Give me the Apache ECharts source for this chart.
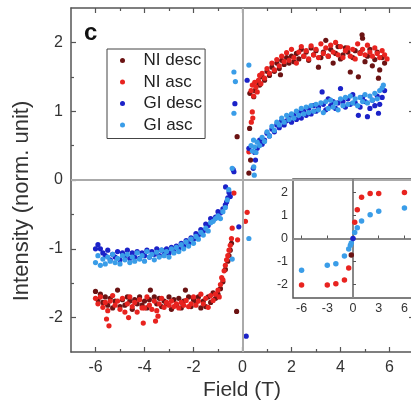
<!DOCTYPE html>
<html><head><meta charset="utf-8">
<script src="https://cdn.jsdelivr.net/npm/echarts@6/dist/echarts.min.js"></script>
<style>html,body{margin:0;padding:0;overflow:hidden;background:#fff}#c{width:414px;height:404px}</style>
</head><body><div id="c"></div>
<script>
const xMajor = [-6,-4,-2,0,2,4,6];
const xMinor = [-5,-3,-1,1,3,5];
const yMajor = [-2,-1,0,1,2];
const yMinor = [-1.5,-0.5,0.5,1.5];
const insetXTicks = [-6,-3,0,3,6];
const insetYTicks = [-2,-1,0,1,2];
const seriesNames = ['NI desc','NI asc','GI desc','GI asc'];
const colors = ['#6b1313','#e8231f','#1b22c8','#3a9de8'];

const NI_desc = [
[5.8,1.70],[5.7,1.78],[5.6,1.60],[5.55,1.48],[5.5,1.86],[5.4,1.75],[5.3,1.66],[5.2,1.90],[5.1,1.80],[5.0,1.72],
[4.9,2.06],[4.88,2.11],[4.8,1.85],[4.73,1.50],[4.6,1.88],[4.5,1.78],[4.4,1.57],[4.3,1.86],[4.2,1.92],[4.1,1.82],
[4.0,1.76],[3.9,1.94],[3.8,1.84],[3.7,1.70],[3.6,1.90],[3.5,1.80],[3.4,2.03],[3.3,1.86],[3.2,1.78],[3.1,1.64],
[3.0,1.88],[2.9,1.82],[2.8,1.92],[2.7,1.74],[2.6,1.86],[2.5,1.80],[2.4,1.90],[2.3,1.76],[2.2,1.84],[2.1,1.72],
[2.0,1.80],[1.9,1.70],[1.8,1.78],[1.7,1.68],[1.6,1.74],[1.55,1.53],[1.5,1.62],[1.4,1.70],[1.3,1.58],[1.2,1.64],
[1.1,1.52],[1.0,1.58],[0.9,1.45],[0.8,1.50],[0.7,1.38],[0.6,1.42],[0.5,1.30],[0.46,1.21],[0.30,1.26],
[0.29,0.75],[0.33,0.29],[0.26,0.10],[-0.22,0.63],
[-0.24,-1.91],[-0.45,-0.92],[-0.5,-1.02],[-0.55,-1.10],[-0.6,-1.18],[-0.7,-1.30],[-0.8,-1.48],[-0.9,-1.58],
[-1.0,-1.66],[-1.1,-1.72],[-1.2,-1.64],[-1.3,-1.78],[-1.4,-1.70],[-1.5,-1.84],[-1.6,-1.76],[-1.7,-1.86],[-1.8,-1.70],
[-1.9,-1.78],[-2.0,-1.74],[-2.1,-1.84],[-2.2,-1.70],[-2.33,-1.60],[-2.4,-1.76],[-2.5,-1.86],[-2.6,-1.72],[-2.7,-1.82],
[-2.8,-1.74],[-2.9,-1.88],[-3.0,-1.70],[-3.1,-1.80],[-3.2,-1.76],[-3.3,-1.84],[-3.4,-1.72],[-3.5,-1.80],[-3.6,-1.70],
[-3.76,-1.60],[-3.8,-1.74],[-3.9,-1.86],[-4.0,-1.76],[-4.1,-1.82],[-4.2,-1.70],[-4.3,-1.80],[-4.4,-1.74],[-4.5,-1.88],
[-4.6,-1.76],[-4.7,-1.70],[-4.8,-1.82],[-4.9,-1.74],[-5.0,-1.84],[-5.1,-1.60],[-5.2,-1.76],[-5.3,-1.86],[-5.4,-1.72],
[-5.5,-1.82],[-5.6,-1.70],[-5.7,-1.78],[-5.8,-1.66],[-5.9,-1.74],[-6.0,-1.62]
];

const NI_asc = [
[-6.0,-1.72],[-5.9,-1.80],[-5.8,-1.70],[-5.7,-1.85],[-5.6,-1.78],[-5.55,-2.02],[-5.5,-1.90],[-5.45,-2.12],[-5.4,-1.76],
[-5.3,-1.68],[-5.2,-1.82],[-5.1,-1.76],[-5.0,-1.88],[-4.9,-1.72],[-4.8,-1.92],[-4.7,-1.80],[-4.65,-2.00],[-4.6,-1.70],
[-4.5,-1.84],[-4.4,-1.78],[-4.3,-1.92],[-4.2,-1.74],[-4.1,-1.86],[-4.05,-2.08],[-4.0,-1.86],[-3.9,-1.70],[-3.8,-1.82],
[-3.7,-1.88],[-3.6,-1.76],[-3.55,-2.05],[-3.5,-1.90],[-3.45,-1.98],[-3.4,-1.80],[-3.3,-1.72],[-3.2,-1.85],[-3.1,-1.78],
[-3.0,-1.82],[-2.9,-1.76],[-2.8,-1.84],[-2.7,-1.80],[-2.6,-1.86],[-2.5,-1.78],[-2.4,-1.82],[-2.3,-1.75],[-2.2,-1.84],
[-2.1,-1.80],[-2.0,-1.70],[-1.9,-1.82],[-1.8,-1.76],[-1.7,-1.66],[-1.6,-1.80],[-1.5,-1.72],[-1.4,-1.85],[-1.3,-1.68],
[-1.2,-1.75],[-1.1,-1.66],[-1.0,-1.60],[-0.95,-1.70],[-0.9,-1.52],[-0.85,-1.42],[-0.8,-1.45],[-0.75,-1.32],[-0.7,-1.24],
[-0.65,-1.16],[-0.6,-1.10],[-0.55,-1.02],[-0.5,-0.95],[-0.45,-0.85],[-0.42,-0.70],[-0.35,-0.19],[-0.2,-0.87],
[0.12,-0.60],[0.19,-0.47],[0.26,0.41],[0.40,0.99],[0.42,0.90],[0.36,0.84],
[0.35,1.30],[0.40,1.38],[0.45,1.22],[0.5,1.42],[0.55,1.35],[0.6,1.28],[0.65,1.45],[0.7,1.52],[0.75,1.40],[0.8,1.55],
[0.9,1.48],[1.0,1.62],[1.1,1.55],[1.2,1.70],[1.3,1.60],[1.4,1.75],[1.5,1.66],[1.6,1.80],[1.7,1.72],[1.8,1.85],
[1.9,1.74],[2.0,1.90],[2.1,1.78],[2.2,1.70],[2.3,1.86],[2.4,1.94],[2.5,1.80],[2.6,1.88],[2.7,1.76],[2.8,1.95],
[2.9,1.82],[3.0,1.90],[3.1,1.78],[3.2,1.98],[3.3,1.84],[3.4,1.92],[3.5,1.80],[3.6,1.96],[3.7,1.86],[3.8,2.00],
[3.9,1.82],[4.0,1.94],[4.1,1.78],[4.2,1.88],[4.3,1.92],[4.4,1.80],[4.5,1.90],[4.6,1.76],[4.7,1.98],[4.8,1.84],
[4.9,1.90],[5.0,1.82],[5.1,1.96],[5.2,1.86],[5.3,1.80],[5.4,1.92],[5.5,1.84],[5.6,1.78],[5.7,1.88],[5.8,1.82],[5.9,1.76]
];

const GI_desc = [
[5.8,1.30],[5.7,1.20],[5.6,1.10],[5.55,0.97],[5.5,1.22],[5.4,1.08],[5.3,1.16],[5.2,1.04],[5.1,0.92],[5.0,1.14],
[4.9,1.20],[4.8,1.06],[4.73,0.94],[4.6,1.12],[4.5,1.24],[4.4,1.10],[4.3,1.18],[4.2,1.06],[4.1,1.14],[4.0,1.33],
[3.9,1.12],[3.8,1.04],[3.7,1.14],[3.6,1.08],[3.5,1.18],[3.4,1.02],[3.3,1.10],[3.25,1.28],[3.1,1.06],[3.0,1.00],
[2.9,1.08],[2.8,0.96],[2.7,1.04],[2.6,0.94],[2.5,1.00],[2.4,0.90],[2.3,0.98],[2.2,0.88],[2.1,0.94],[2.0,0.84],
[1.9,0.92],[1.8,0.86],[1.7,0.80],[1.6,0.86],[1.5,0.76],[1.4,0.80],[1.3,0.70],[1.2,0.74],[1.1,0.64],[1.0,0.68],
[0.9,0.58],[0.8,0.52],[0.7,0.58],[0.6,0.46],[0.5,0.40],[0.53,0.29],[0.26,0.46],[0.44,0.17],
[0.19,1.45],[-0.31,1.11],[-0.38,0.15],[-0.35,0.12],[-0.69,-0.10],[-0.5,-0.24],[-0.15,-0.68],[0.15,-2.27],
[-0.55,-0.18],[-0.6,-0.26],[-0.65,-0.32],[-0.7,-0.36],[-0.8,-0.42],[-0.9,-0.48],[-1.0,-0.46],[-1.1,-0.54],[-1.2,-0.58],
[-1.3,-0.56],[-1.4,-0.66],[-1.5,-0.64],[-1.6,-0.74],[-1.7,-0.72],[-1.8,-0.80],[-1.9,-0.78],[-2.0,-0.86],[-2.1,-0.84],
[-2.2,-0.92],[-2.3,-0.88],[-2.4,-0.96],[-2.5,-0.92],[-2.6,-1.00],[-2.7,-0.96],[-2.8,-1.04],[-2.9,-0.98],[-3.0,-1.06],
[-3.1,-1.00],[-3.2,-1.08],[-3.3,-1.02],[-3.4,-1.10],[-3.5,-1.00],[-3.6,-1.08],[-3.7,-1.04],[-3.8,-1.12],[-3.9,-1.02],
[-4.0,-1.10],[-4.1,-1.06],[-4.2,-1.14],[-4.3,-1.04],[-4.4,-1.12],[-4.5,-1.06],[-4.6,-1.14],[-4.7,-1.02],[-4.8,-1.10],
[-4.9,-1.06],[-5.0,-1.16],[-5.1,-1.04],[-5.2,-1.12],[-5.3,-1.08],[-5.4,-1.16],[-5.5,-1.02],[-5.6,-1.10],[-5.7,-1.06],
[-5.8,-1.00],[-5.9,-0.94],[-6.0,-1.00]
];

const GI_asc = [
[-6.0,-1.20],[-5.9,-1.10],[-5.8,-1.24],[-5.7,-1.15],[-5.6,-1.22],[-5.5,-1.12],[-5.4,-1.18],[-5.3,-1.08],[-5.2,-1.20],
[-5.1,-1.14],[-5.0,-1.22],[-4.9,-1.10],[-4.8,-1.16],[-4.7,-1.08],[-4.6,-1.20],[-4.5,-1.12],[-4.4,-1.18],[-4.3,-1.06],
[-4.2,-1.15],[-4.1,-1.10],[-4.0,-1.18],[-3.9,-1.04],[-3.8,-1.12],[-3.7,-1.08],[-3.6,-1.16],[-3.5,-1.05],[-3.4,-1.12],
[-3.3,-1.02],[-3.2,-1.10],[-3.1,-1.04],[-3.0,-1.12],[-2.9,-1.00],[-2.8,-1.06],[-2.7,-0.98],[-2.6,-1.04],[-2.5,-0.94],
[-2.4,-1.00],[-2.3,-0.90],[-2.2,-0.96],[-2.1,-0.86],[-2.0,-0.92],[-1.9,-0.82],[-1.8,-0.86],[-1.7,-0.76],[-1.6,-0.80],
[-1.5,-0.70],[-1.4,-0.74],[-1.3,-0.62],[-1.2,-0.60],[-1.1,-0.56],[-1.0,-0.52],[-0.9,-0.56],[-0.8,-0.46],[-0.7,-0.40],
[-0.62,-0.29],[-0.56,-0.14],[-0.42,-1.15],[0.26,-0.85],[-0.42,0.17],[-0.35,0.97],[-0.29,1.43],[-0.35,1.57],[0.26,1.67],
[0.48,0.07],[0.46,0.19],
[0.35,0.50],[0.4,0.42],[0.45,0.58],[0.5,0.48],[0.55,0.40],[0.6,0.55],[0.7,0.50],[0.8,0.62],[0.9,0.56],[1.0,0.70],
[1.1,0.64],[1.2,0.78],[1.3,0.72],[1.4,0.84],[1.5,0.80],[1.6,0.90],[1.7,0.84],[1.8,0.94],[1.9,0.88],[2.0,0.96],
[2.1,0.90],[2.2,1.00],[2.3,0.94],[2.4,1.04],[2.5,0.96],[2.6,1.06],[2.7,0.98],[2.8,1.08],[2.9,1.00],[3.0,1.10],
[3.1,1.02],[3.2,1.12],[3.3,0.98],[3.4,1.14],[3.5,1.04],[3.6,1.16],[3.7,1.06],[3.8,1.12],[3.9,1.02],[4.0,1.18],
[4.1,1.08],[4.2,1.20],[4.3,1.10],[4.4,1.22],[4.5,1.12],[4.6,1.18],[4.7,1.08],[4.8,1.20],[4.9,1.14],[5.0,1.24],
[5.1,1.12],[5.2,1.22],[5.3,1.16],[5.4,1.26],[5.5,1.18],[5.6,1.30],[5.7,1.34],[5.75,1.38]
];

const inset_NI = [[-6,-2.03],[-3,-2.03],[-2,-1.98],[-1,-1.81],[-0.5,-1.29],[0.2,0.71],[0.5,1.26],[1,1.8],[2,1.97],[3,1.97],[6,2.01]];
const inset_NI_dark = [[-0.2,-0.72]];
const inset_GI = [[-6,-1.39],[-3,-1.17],[-2,-1.1],[-1,-0.77],[-0.5,-0.46],[-0.3,-0.3],[-0.2,-0.2],[0.2,0.26],[0.5,0.47],[1,0.76],[2,1.04],[3,1.19],[6,1.33]];
const inset_GI_dark = [[0,0]];

const FONT = 'Liberation Sans, Arial, sans-serif';
const AX = '#555';

function tickAxis(kind, grid, pos, vals, len, showLine, labels) {
  return {
    type: 'value', gridIndex: grid, position: pos,
    min: kind === 'x' ? -7 : -2.5, max: kind === 'x' ? 7 : 2.5,
    axisLine: {show: showLine, onZero: false, lineStyle: {color: AX, width: 1.5}},
    axisTick: {show: true, inside: true, length: len, customValues: vals, lineStyle: {color: AX, width: 1.2}},
    axisLabel: labels ? {show: true, customValues: vals, fontSize: 16, fontFamily: FONT, color: '#333', margin: 8} : {show: false},
    splitLine: {show: false}
  };
}

const xAxes = [
  tickAxis('x', 0, 'bottom', xMajor, 5, true, true),
  tickAxis('x', 0, 'bottom', xMinor, 3, false, false),
  tickAxis('x', 0, 'top', xMajor, 5, true, false),
  tickAxis('x', 0, 'top', xMinor, 3, false, false),
  {type: 'value', gridIndex: 1, min: -7, max: 7, position: 'bottom', z: 6,
   axisLine: {show: false},
   axisTick: {show: true, inside: true, length: 3, customValues: insetXTicks, lineStyle: {color: AX}},
   axisLabel: {customValues: insetXTicks, fontSize: 12.5, fontFamily: FONT, color: '#333', margin: 4},
   splitLine: {show: false}}
];
const yAxes = [
  tickAxis('y', 0, 'left', yMajor, 5, true, true),
  tickAxis('y', 0, 'left', yMinor, 3, false, false),
  tickAxis('y', 0, 'right', yMajor, 5, true, false),
  tickAxis('y', 0, 'right', yMinor, 3, false, false),
  {type: 'value', gridIndex: 1, min: -2.6, max: 2.6, position: 'left', z: 6,
   axisLine: {show: false},
   axisTick: {show: true, inside: true, length: 3, customValues: insetYTicks, lineStyle: {color: AX}},
   axisLabel: {customValues: insetYTicks, fontSize: 12.5, fontFamily: FONT, color: '#333', margin: 5},
   splitLine: {show: false}}
];

const mainData = [NI_desc, NI_asc, GI_desc, GI_asc];
const series = mainData.map((d, i) => ({
  name: seriesNames[i], type: 'scatter', xAxisIndex: 0, yAxisIndex: 0, data: d,
  symbol: 'circle', symbolSize: 5.2, itemStyle: {color: colors[i], opacity: 1}, z: 2, silent: true
}));
series.unshift({
  type: 'scatter', xAxisIndex: 0, yAxisIndex: 0, data: [], z: 1, silent: true,
  markLine: {silent: true, symbol: ['none', 'none'], animation: false, label: {show: false},
    lineStyle: {color: '#aaaaaa', width: 2, type: 'solid'}, data: [{xAxis: 0}, {yAxis: 0}]}
});
series.push({
  type: 'scatter', xAxisIndex: 4, yAxisIndex: 4, data: [], z: 7, silent: true,
  markLine: {silent: true, symbol: ['none', 'none'], animation: false, label: {show: false},
    lineStyle: {color: '#888888', width: 2, type: 'solid'}, data: [{xAxis: 0}, {yAxis: 0}]}
});
[[inset_NI, colors[1]], [inset_NI_dark, colors[0]], [inset_GI, colors[3]], [inset_GI_dark, colors[2]]].forEach(([d, c], k) => {
  series.push({name: 'inset' + k, type: 'scatter', xAxisIndex: 4, yAxisIndex: 4, data: d,
    symbol: 'circle', symbolSize: 5.5, itemStyle: {color: c, opacity: 1}, z: 8, silent: true});
});

const chart = echarts.init(document.getElementById('c'), null, {renderer: 'canvas'});
chart.setOption({
  animation: false,
  backgroundColor: '#fff',
  grid: [
    {left: 71, top: 8, right: 0, bottom: 52, show: false},
    {left: 293, top: 179, width: 120, height: 119, show: true, backgroundColor: '#fff',
     borderColor: AX, borderWidth: 1.5, z: 5}
  ],
  xAxis: xAxes,
  yAxis: yAxes,
  legend: {
    data: seriesNames, orient: 'vertical', left: 107, top: 49,
    padding: [3, 3, 5, 13], itemWidth: 24, itemHeight: 5, itemGap: 4.5, icon: 'circle',
    borderColor: '#444', borderWidth: 1, backgroundColor: '#fff', borderRadius: 0,
    selectedMode: false,
    textStyle: {fontSize: 17, fontFamily: FONT, color: '#222', lineHeight: 17, padding: [0, 0, 0, 4]}
  },
  graphic: [
    {type: 'text', left: 84, top: 21, style: {text: 'c', font: 'bold 24px ' + FONT, fill: '#111'}},
    {type: 'text', x: 22, y: 201, rotation: Math.PI / 2,
     style: {text: 'Intensity (norm. unit)', font: '22px ' + FONT, fill: '#333', textAlign: 'center', textVerticalAlign: 'middle'}},
    {type: 'text', x: 242, y: 390,
     style: {text: 'Field (T)', font: '21px ' + FONT, fill: '#333', textAlign: 'center', textVerticalAlign: 'middle'}}
  ],
  series: series
});
</script></body></html>
